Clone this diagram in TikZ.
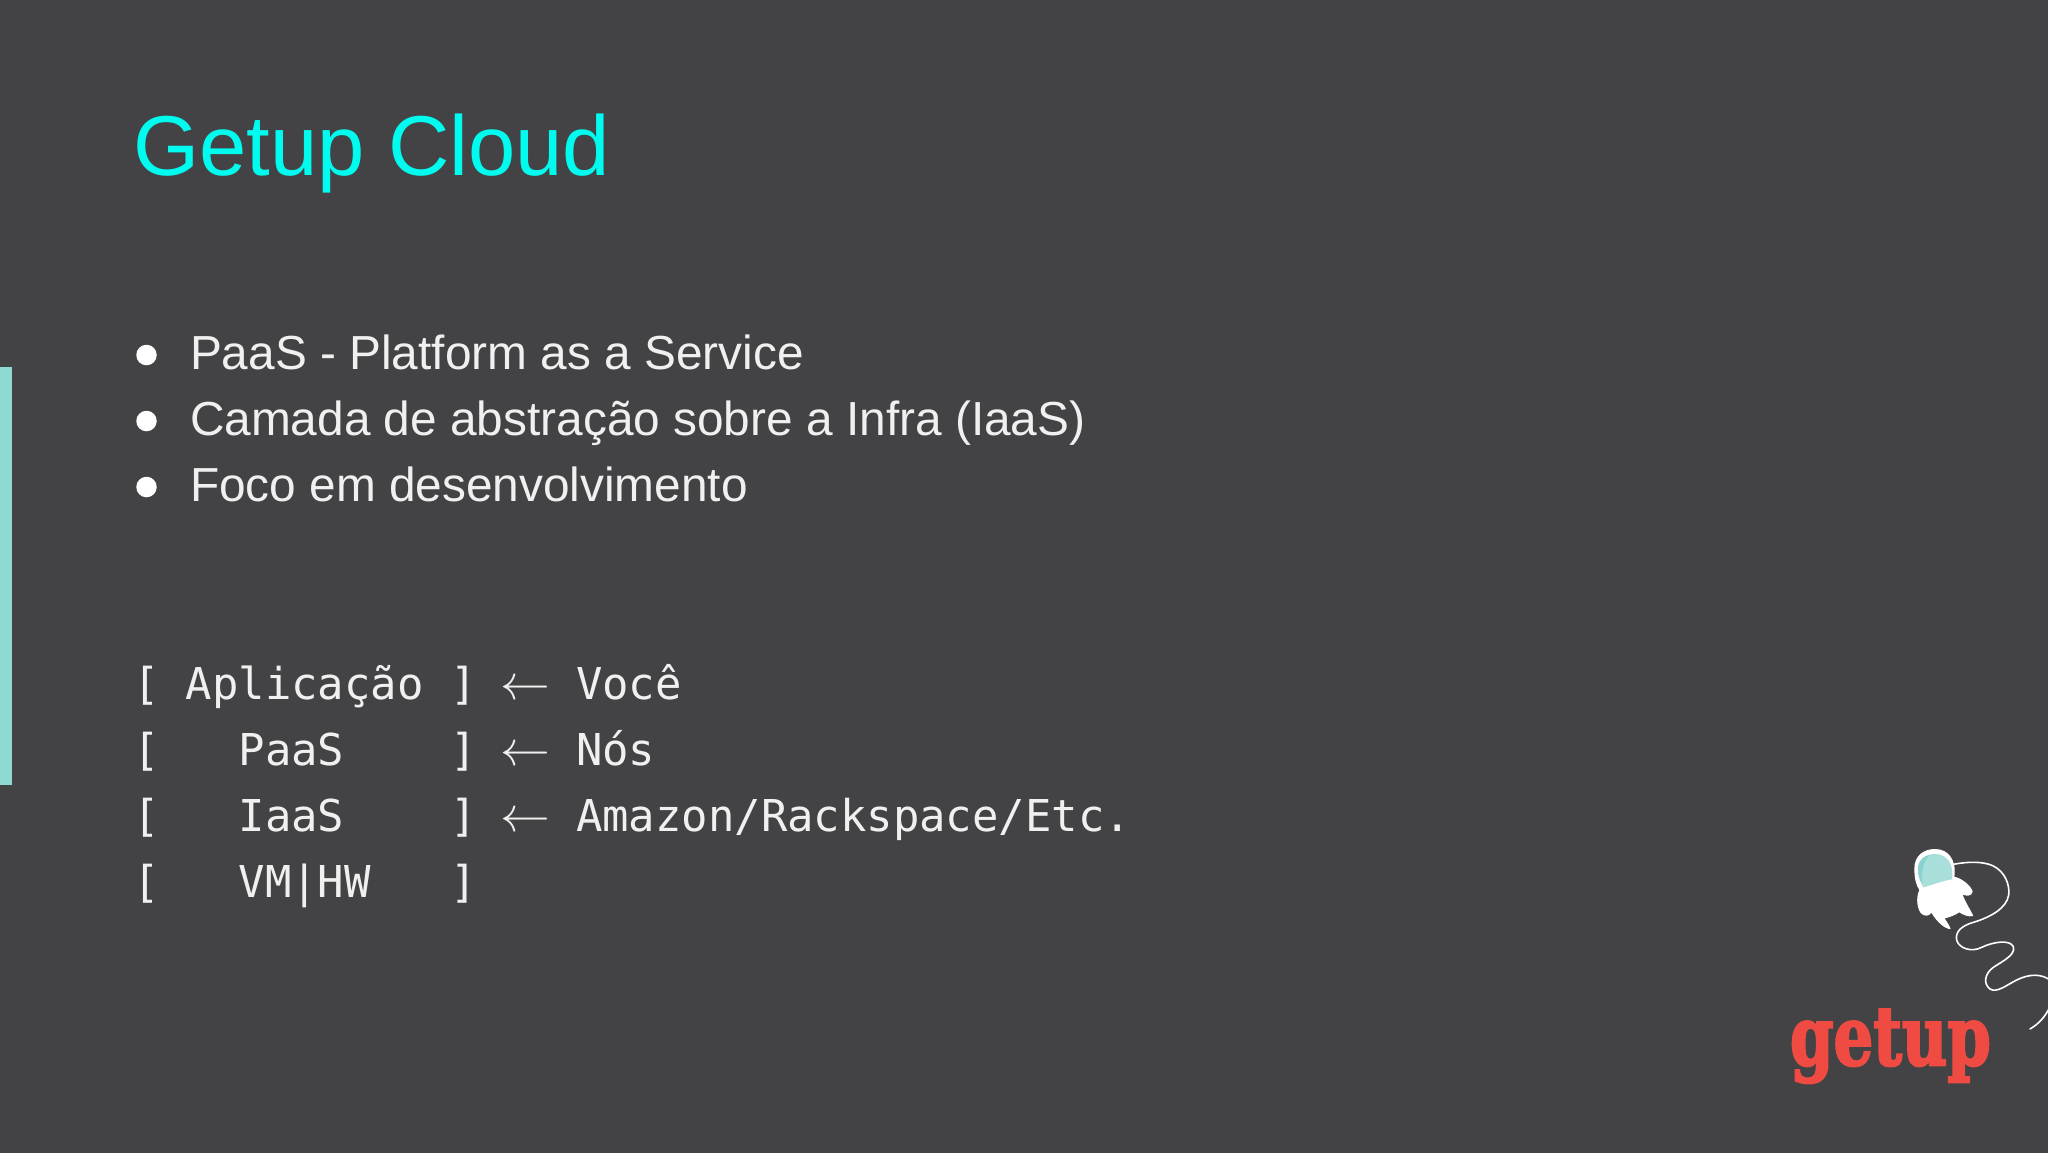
\documentclass[tikz,border=0pt]{standalone}
\usepackage{fontspec}
\setmainfont{Liberation Sans}
\setmonofont{DejaVu Sans Mono}
\newfontfamily\logofont{DejaVu Serif Bold}[FakeBold=3]
\definecolor{slidebg}{HTML}{434244}
\definecolor{barteal}{HTML}{8FD9D3}
\definecolor{titlecyan}{HTML}{00FBEF}
\definecolor{bodytext}{HTML}{F0F0F0}
\definecolor{logored}{HTML}{F04B42}
\definecolor{visor}{HTML}{A9DFDB}
\definecolor{visordark}{HTML}{8AD2D0}
\tikzset{
  txt/.style={anchor=base west,inner sep=0pt,outer sep=0pt,text=bodytext},
  titletxt/.style={txt,text=titlecyan,font=\fontsize{85}{90}\selectfont},
  bullettxt/.style={txt,font=\fontsize{47.8}{50}\selectfont},
  monotxt/.style={txt,font=\ttfamily\fontsize{43.9}{50}\selectfont},
  arrowtxt/.style={txt,font=\fontsize{20}{24}\selectfont,scale=2.4,transform shape},
  bulletdot/.style={circle,fill=white,inner sep=0pt,minimum size=20.5pt},
  logotxt/.style={txt,text=logored,font=\logofont\fontsize{82}{90}\selectfont,xscale=0.76,transform shape},
  tether/.style={draw=white,line width=1.6pt,line cap=round}
}
\begin{document}
\begin{tikzpicture}[x=1pt,y=-1pt]
\useasboundingbox (0,0) rectangle (2048,1152);
\fill[slidebg] (-5,-5) rectangle (2060,1165);
\fill[barteal] (-5,367) rectangle (12,785);

\node[titletxt] (title) at (133,175) {Getup Cloud};

\node[bulletdot] (d1) at (146.5,355) {};
\node[bulletdot] (d2) at (146.5,421) {};
\node[bulletdot] (d3) at (146.5,487) {};
\node[bullettxt] (b1) at (190,369) {PaaS - Platform as a Service};
\node[bullettxt] (b2) at (190,435) {Camada de abstração sobre a Infra (IaaS)};
\node[bullettxt] (b3) at (190,501) {Foco em desenvolvimento};

\node[monotxt] (m1) at (133,699) {[~Aplicação~]};
\node[monotxt] (m2) at (133,765) {[~~~PaaS~~~~]};
\node[monotxt] (m3) at (133,831) {[~~~IaaS~~~~]};
\node[monotxt] (m4) at (133,897) {[~~~VM|HW~~~]};

\node[arrowtxt] (a1) at (500,699) {$\leftarrow$};
\node[arrowtxt] (a2) at (500,765) {$\leftarrow$};
\node[arrowtxt] (a3) at (500,831) {$\leftarrow$};

\node[monotxt] (r1) at (576,699) {Você};
\node[monotxt] (r2) at (576,765) {Nós};
\node[monotxt] (r3) at (576,831) {Amazon/Rackspace/Etc.};

\node[logotxt] (logo) at (1790,1065) {getup};

\begin{scope}[shift={(1760,830)},x=1pt/3,y=-1pt/3]
  % tether
  \draw[tether] (580,103) .. controls (620,95) and (670,93) .. (700,108)
    .. controls (735,125) and (750,165) .. (746,195)
    .. controls (740,235) and (690,262) .. (640,277)
    .. controls (605,287) and (585,305) .. (590,330)
    .. controls (596,355) and (635,368) .. (665,352)
    .. controls (700,335) and (750,328) .. (760,350)
    .. controls (768,375) and (725,395) .. (700,412)
    .. controls (675,430) and (668,460) .. (690,477)
    .. controls (710,490) and (740,465) .. (770,450)
    .. controls (810,430) and (845,432) .. (870,450);
  \draw[tether] (810,597) .. controls (835,582) and (855,562) .. (870,530);
  % body
  \fill[white] (463,115) .. controls (463,78) and (490,57) .. (525,57)
    .. controls (565,57) and (590,90) .. (583,140)
    .. controls (605,145) and (632,165) .. (638,185)
    .. controls (635,200) and (618,198) .. (608,194)
    .. controls (615,215) and (632,240) .. (640,258)
    .. controls (625,262) and (608,254) .. (598,247)
    .. controls (582,257) and (568,262) .. (554,265)
    .. controls (560,275) and (568,285) .. (572,297)
    .. controls (555,298) and (530,275) .. (514,248)
    .. controls (508,258) and (495,260) .. (485,252)
    .. controls (472,240) and (466,205) .. (478,180)
    .. controls (468,165) and (463,145) .. (463,115) -- cycle;
  % visor
  \fill[visor] (474,115) .. controls (474,90) and (495,72) .. (525,72)
    .. controls (560,72) and (582,100) .. (576,148)
    .. controls (550,152) and (515,165) .. (490,172)
    .. controls (480,155) and (474,140) .. (474,115) -- cycle;
  \fill[visordark] (474,115) .. controls (474,95) and (490,78) .. (510,74)
    .. controls (495,90) and (485,105) .. (486,160)
    .. controls (480,150) and (474,140) .. (474,115) -- cycle;
\end{scope}
\end{tikzpicture}
\end{document}
